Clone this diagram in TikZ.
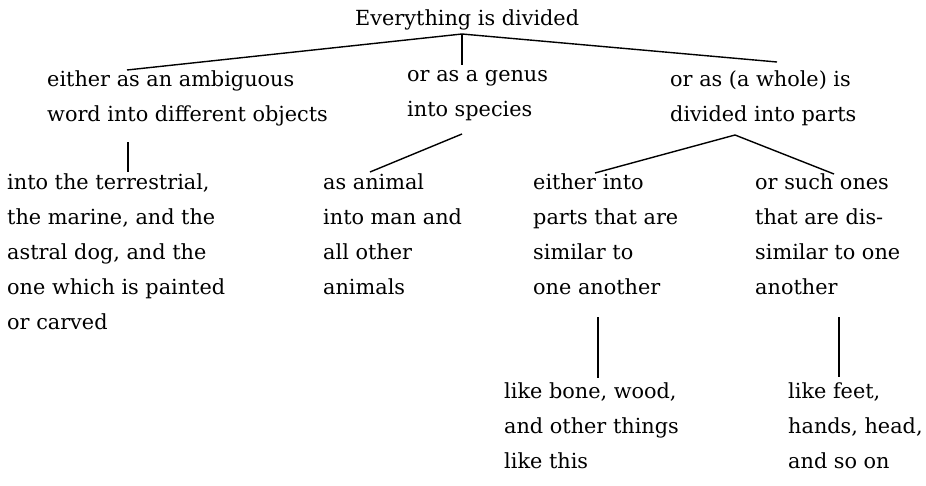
\documentclass[tikz,border=0pt]{standalone}
\usepackage{fontspec}
\setmainfont{DejaVu Serif}

\begin{document}
\begin{tikzpicture}[x=1pt,y=-1pt,
  txt/.style={anchor=north west,inner sep=0pt,align=left,
    font=\fontsize{20.8}{35}\selectfont,execute at begin node=\strut},
  link/.style={line width=1.4pt}]
  \useasboundingbox (0,0) rectangle (926,485);

  % text blocks, top to bottom
  \node[txt] (root) at (355,0.5) {Everything is divided};
  \node[txt] (ambig) at (47,70.5) {either as an ambiguous\\word into different objects};
  \node[txt] (genus) at (407,70.5) {or as a genus\\into species};
  \node[txt] (parts) at (670,70.5) {or as (a whole) is\\divided into parts};
  \node[txt] (dog) at (7,173.5)
    {into the terrestrial,\\the marine, and the\\astral dog, and the\\one which is painted\\or carved};
  \node[txt] (animal) at (323,173.5) {as animal\\into man and\\all other\\animals};
  \node[txt] (similar) at (533,173.5) {either into\\parts that are\\similar to\\one another};
  \node[txt] (dissim) at (755,173.5) {or such ones\\that are dis-\\similar to one\\another};
  \node[txt] (bone) at (504,382.5) {like bone, wood,\\and other things\\like this};
  \node[txt] (feet) at (788,382.5) {like feet,\\hands, head,\\and so on};

  % ends of the branches
  \coordinate (root-v) at (462,34);
  \coordinate (ambig-t) at (127,70);
  \coordinate (genus-t) at (462,65);
  \coordinate (parts-t) at (777,62);
  \coordinate (ambig-b) at (128,142);
  \coordinate (dog-t) at (128,172);
  \coordinate (genus-b) at (462,134);
  \coordinate (animal-t) at (370,172);
  \coordinate (parts-b) at (735,135);
  \coordinate (similar-t) at (595,173);
  \coordinate (dissim-t) at (834,174);
  \coordinate (similar-b) at (598,317);
  \coordinate (bone-t) at (598,378);
  \coordinate (dissim-b) at (839,317);
  \coordinate (feet-t) at (839,377);

  \draw[link] (root-v) -- (ambig-t);
  \draw[link] (root-v) -- (genus-t);
  \draw[link] (root-v) -- (parts-t);
  \draw[link] (ambig-b) -- (dog-t);
  \draw[link] (genus-b) -- (animal-t);
  \draw[link] (parts-b) -- (similar-t);
  \draw[link] (parts-b) -- (dissim-t);
  \draw[link] (similar-b) -- (bone-t);
  \draw[link] (dissim-b) -- (feet-t);

\end{tikzpicture}
\end{document}
